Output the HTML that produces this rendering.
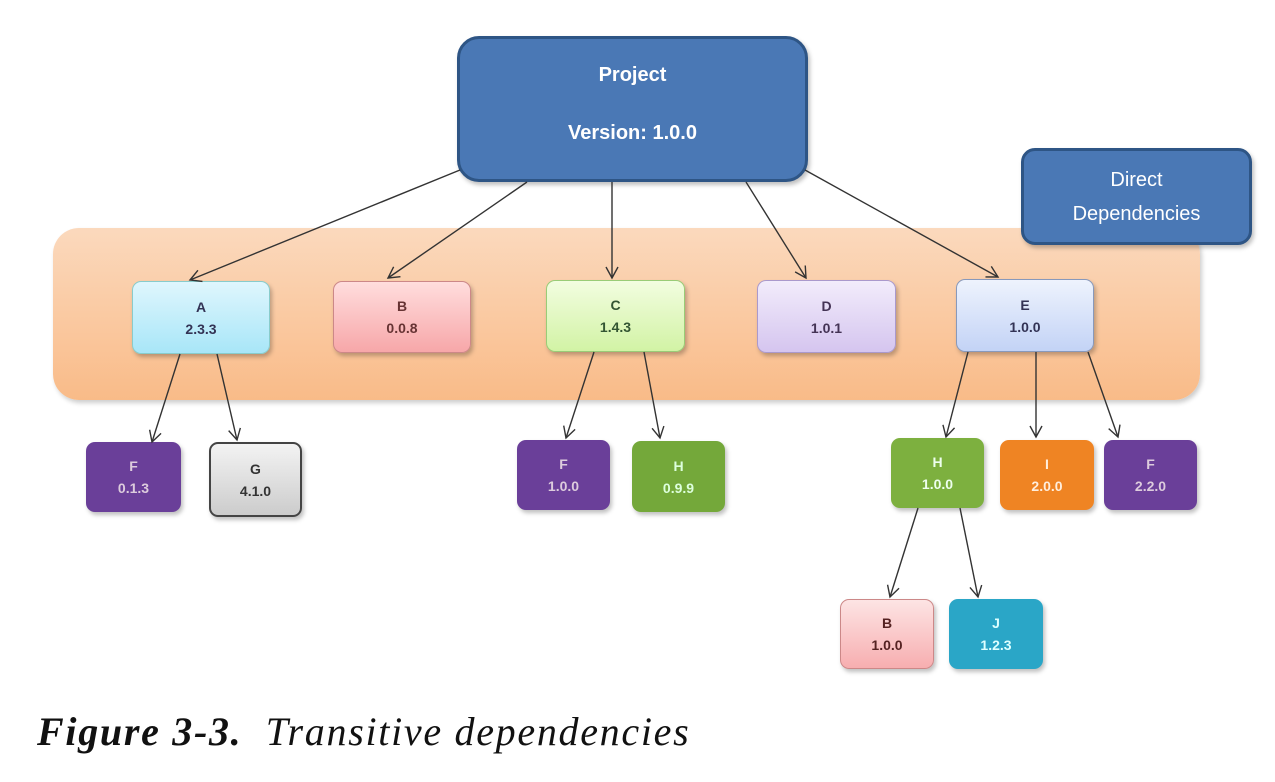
<!DOCTYPE html>
<html><head><style>
body{margin:0;width:1275px;height:782px;background:#fff;overflow:hidden;position:relative;font-family:"Liberation Sans",sans-serif}
.n{position:absolute;border-radius:9px;box-sizing:border-box;display:flex;flex-direction:column;align-items:center;justify-content:center;font-size:14px;font-weight:bold;line-height:22px;box-shadow:2px 3px 4px rgba(0,0,0,.25)}
svg{position:absolute;left:0;top:0}
</style></head><body>
<div style="position:absolute;left:53px;top:228px;width:1147px;height:172px;border-radius:26px;background:linear-gradient(#fbd9bd,#f9bb88);box-shadow:2px 3px 5px rgba(0,0,0,.2)"></div>
<div class="n" style="left:457px;top:36px;width:351px;height:146px;background:#4a78b5;border:3px solid #2e5585;border-radius:22px;color:#fff;font-size:20px;line-height:58px;padding-bottom:10px">Project<span>Version: 1.0.0</span></div>
<div class="n" style="left:1021px;top:148px;width:231px;height:97px;background:#4a78b5;border:3px solid #2e5585;border-radius:14px;color:#fff;font-size:20px;font-weight:normal;line-height:34px">Direct<span>Dependencies</span></div>
<div class="n" style="left:132px;top:281px;width:138px;height:73px;background:linear-gradient(#dff6fd,#a8e6f8);border:1px solid #8cc;color:#335">A<span>2.3.3</span></div>
<div class="n" style="left:333px;top:281px;width:138px;height:72px;background:linear-gradient(#fdd,#f7a7a9);border:1px solid #c88;color:#633">B<span>0.0.8</span></div>
<div class="n" style="left:546px;top:280px;width:139px;height:72px;background:linear-gradient(#f2fde0,#d2f3a5);border:1px solid #9c7;color:#353">C<span>1.4.3</span></div>
<div class="n" style="left:757px;top:280px;width:139px;height:73px;background:linear-gradient(#f2ecfb,#d5c5ef);border:1px solid #a9c;color:#435">D<span>1.0.1</span></div>
<div class="n" style="left:956px;top:279px;width:138px;height:73px;background:linear-gradient(#eef3fd,#c3d3f6);border:1px solid #89b;color:#335">E<span>1.0.0</span></div>
<div class="n" style="left:86px;top:442px;width:95px;height:70px;background:#6a3f99;color:#dcd">F<span>0.1.3</span></div>
<div class="n" style="left:209px;top:442px;width:93px;height:75px;background:linear-gradient(#f3f3f3,#ccc);border:2px solid #444;color:#333">G<span>4.1.0</span></div>
<div class="n" style="left:517px;top:440px;width:93px;height:70px;background:#6a3f99;color:#dcd">F<span>1.0.0</span></div>
<div class="n" style="left:632px;top:441px;width:93px;height:71px;background:#74a83a;color:#dfd">H<span>0.9.9</span></div>
<div class="n" style="left:891px;top:438px;width:93px;height:70px;background:#7db03f;color:#efe">H<span>1.0.0</span></div>
<div class="n" style="left:1000px;top:440px;width:94px;height:70px;background:#ef8423;color:#fed">I<span>2.0.0</span></div>
<div class="n" style="left:1104px;top:440px;width:93px;height:70px;background:#6a3f99;color:#dcd">F<span>2.2.0</span></div>
<div class="n" style="left:840px;top:599px;width:94px;height:70px;background:linear-gradient(#fde4e4,#f7aeb0);border:1px solid #c88;color:#522">B<span>1.0.0</span></div>
<div class="n" style="left:949px;top:599px;width:94px;height:70px;background:#2aa6c7;color:#dff">J<span>1.2.3</span></div>
<svg width="1275" height="782">
<defs><marker id="a" markerWidth="14" markerHeight="14" refX="12" refY="7" orient="auto" markerUnits="userSpaceOnUse"><path d="M1,1 L12,7 L1,13" fill="none" stroke="#333" stroke-width="1.4"/></marker></defs>
<g stroke="#333" stroke-width="1.4" marker-end="url(#a)">
<line x1="460" y1="170" x2="190" y2="280"/>
<line x1="527" y1="182" x2="388" y2="278"/>
<line x1="612" y1="182" x2="612" y2="278"/>
<line x1="746" y1="182" x2="806" y2="278"/>
<line x1="805" y1="170" x2="998" y2="277"/>
<line x1="180" y1="354" x2="152" y2="442"/>
<line x1="217" y1="354" x2="237" y2="440"/>
<line x1="594" y1="352" x2="566" y2="438"/>
<line x1="644" y1="352" x2="660" y2="438"/>
<line x1="968" y1="352" x2="946" y2="437"/>
<line x1="1036" y1="352" x2="1036" y2="437"/>
<line x1="1088" y1="352" x2="1118" y2="437"/>
<line x1="918" y1="508" x2="890" y2="597"/>
<line x1="960" y1="508" x2="978" y2="597"/>
</g></svg>
<div style="position:absolute;left:37px;top:708px;font-family:'Liberation Serif',serif;font-style:italic;font-size:40px;letter-spacing:1.7px;color:#111;white-space:nowrap"><b>Figure 3-3.</b>&nbsp;&nbsp;Transitive dependencies</div>
</body></html>
